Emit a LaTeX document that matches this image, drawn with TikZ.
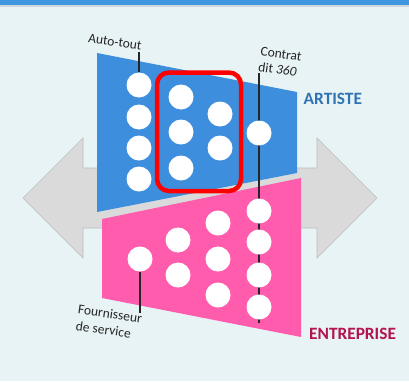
\documentclass[tikz,border=0pt]{standalone}
\usepackage{fontspec}
\setmainfont{Carlito}
\definecolor{bg}{HTML}{E8F3F6}
\definecolor{topbar}{HTML}{3F96E0}
\definecolor{topgray}{HTML}{CFD6DA}
\definecolor{arrowfill}{HTML}{DADADA}
\definecolor{arrowline}{HTML}{BDBDBD}
\definecolor{bluequad}{HTML}{3D8FDE}
\definecolor{pinkquad}{HTML}{FF5CAD}
\definecolor{artiste}{HTML}{2E74B5}
\definecolor{entreprise}{HTML}{B3134F}
\definecolor{labeltext}{HTML}{262626}
\definecolor{redbox}{HTML}{FF0000}
\tikzset{
  dot/.style={circle, fill=white, minimum size=25pt, inner sep=0pt},
  lbl/.style={font=\fontsize{13.5}{15.5}\selectfont, text=labeltext, inner sep=0pt, align=left, rotate=-8},
  title/.style={font=\fontsize{17.3}{20}\selectfont\bfseries, inner sep=0pt, anchor=west},
  tick/.style={draw=labeltext, line width=1.6pt}
}
\begin{document}
\begin{tikzpicture}[x=1pt,y=-1pt]
\useasboundingbox (0,0) rectangle (409,381);
\fill[bg] (0,0) rectangle (409,381);
\fill[topbar] (0,0) rectangle (409,4.5);
\fill[topgray] (0,4.5) rectangle (409,6.5);
% double arrow
\filldraw[fill=arrowfill, draw=arrowline, line width=0.6pt]
  (23,198) -- (83,138) -- (83,168) -- (317,168) -- (317,138) -- (377,198)
  -- (317,258) -- (317,228) -- (83,228) -- (83,258) -- cycle;
% quads
\fill[bluequad] (97,53) -- (297,92) -- (297,173) -- (97,212) -- cycle;
\fill[pinkquad] (102,219) -- (301,178) -- (301,337) -- (102,298) -- cycle;
% lines
\coordinate (ctop) at (259,73);
\coordinate (cbot) at (259,323);
\draw[tick] (ctop) -- (cbot);
\coordinate (atop) at (139,52);
\coordinate (fbot) at (140,313);
% blue dots
\node[dot] (b11) at (139,85) {};
\node[dot] (b12) at (139,117) {};
\node[dot] (b13) at (139,148) {};
\node[dot] (b14) at (139,179) {};
\node[dot] (b21) at (181,97) {};
\node[dot] (b22) at (181,132) {};
\node[dot] (b23) at (181,168) {};
\node[dot] (b31) at (220,114) {};
\node[dot] (b32) at (220,148) {};
\node[dot] (b41) at (259,133) {};
% pink dots
\node[dot] (p11) at (140,259) {};
\node[dot] (p21) at (178,240) {};
\node[dot] (p22) at (178,275) {};
\node[dot] (p31) at (218,223) {};
\node[dot] (p32) at (218,259) {};
\node[dot] (p33) at (218,295) {};
\node[dot] (p41) at (259,211) {};
\node[dot] (p42) at (259,242) {};
\node[dot] (p43) at (259,275) {};
\node[dot] (p44) at (259,307) {};
% ticks
\draw[tick, line width=1.2pt] (atop) -- (b11.north);
\draw[tick, line width=1.6pt] (p11.south) -- (fbot);
% red box
\draw[redbox, line width=4.5pt, rounded corners=12pt] (157,72.5) rectangle (241,191);
% labels
\node[lbl] (autotout) at (115,42) {Auto-tout};
\node[lbl] (contrat) at (280,62) {Contrat\\dit \textit{360}};
\node[lbl, font=\fontsize{13.5}{16.5}\selectfont] (fourn) at (109,322) {Fournisseur\\de service};
\node[title, text=artiste] (art) at (303.5,99) {ARTISTE};
\node[title, text=entreprise] (ent) at (309,333.5) {ENTREPRISE};
\end{tikzpicture}
\end{document}
